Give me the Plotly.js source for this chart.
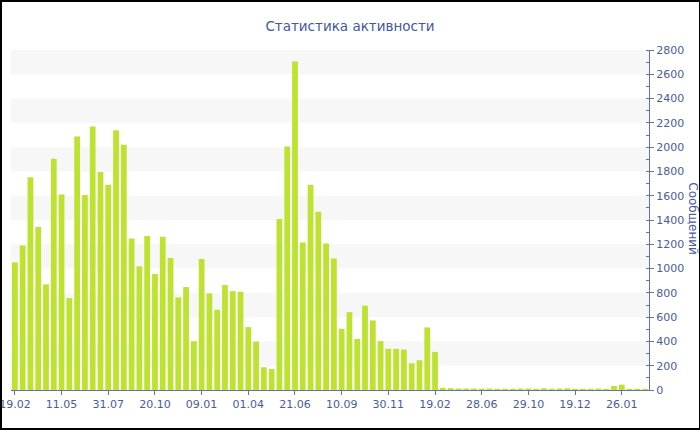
<!DOCTYPE html>
<html>
<head>
<meta charset="utf-8">
<script src="https://cdn.plot.ly/plotly-3.0.1.min.js"></script>
<style>
  html, body { margin: 0; padding: 0; background: #fff; }
  #wrap { position: relative; width: 700px; height: 430px; overflow: hidden; }
  #chart { width: 700px; height: 430px; }
  #frame { position: absolute; left: 0; top: 0; width: 700px; height: 430px; box-sizing: border-box;
           border-top: 2px solid #000; border-left: 2px solid #000; border-right: 1px solid #000; border-bottom: 2px solid #000;
           pointer-events: none; }
</style>
</head>
<body>
<div id="wrap">
  <div id="chart"></div>
  <div id="frame"></div>
</div>
<script>
// ---- data ----
const messages = [
  1051, 1189, 1753, 1343, 870, 1905, 1610, 757, 2087, 1605,
  2169, 1795, 1690, 2139, 2020, 1247, 1018, 1269, 955, 1263,
  1087, 762, 848, 402, 1079, 795, 661, 864, 814, 809,
  518, 399, 187, 173, 1409, 2006, 2706, 1214, 1690, 1467,
  1206, 1082, 504, 641, 421, 694, 573, 402, 339, 339,
  333, 220, 245, 515, 314, 18, 15, 12, 12, 12,
  10, 12, 10, 10, 10, 12, 12, 10, 14, 10,
  12, 14, 10, 10, 10, 12, 10, 33, 44, 10,
  10, 10
];
const tickLabels = ["19.02", "11.05", "31.07", "20.10", "09.01", "01.04", "21.06",
                    "10.09", "30.11", "19.02", "28.06", "29.10", "19.12", "26.01"];
const tickIndex = [0, 6, 12, 18, 24, 30, 36, 42, 48, 54, 60, 66, 72, 78];
const chartTitle = "Статистика активности";
const yTitle = "Сообщений";

// ---- chart ----
const idx = messages.map((_, i) => i);
const blue = "#4a5b9e";
const axisCol = "#6272ab";

const bands = [];
for (let v = 200; v < 2800; v += 400) {
  bands.push({type: "rect", xref: "paper", yref: "y", x0: 0, x1: 1, y0: v, y1: v + 200,
              fillcolor: "#f7f7f7", line: {width: 0}, layer: "below"});
}

const trace = {
  type: "bar",
  x: idx,
  y: messages,
  marker: {color: "#bde230", line: {width: 0}},
  hoverinfo: "y"
};

const layout = {
  width: 700, height: 430,
  margin: {l: 11, r: 51, t: 50, b: 40, pad: 0},
  paper_bgcolor: "#fff",
  plot_bgcolor: "#fff",
  font: {family: "Verdana, 'DejaVu Sans', sans-serif", color: blue, size: 11},
  title: {text: chartTitle, x: 0.5, xanchor: "center", y: 0.94, yanchor: "middle",
          font: {size: 13.5, color: "#4257a0", family: "Verdana, 'DejaVu Sans', sans-serif"}},
  bargap: 0.26,
  showlegend: false,
  xaxis: {
    range: [-0.5, messages.length - 0.5],
    tickmode: "array", tickvals: tickIndex, ticktext: tickLabels,
    ticks: "outside", ticklen: 4, tickcolor: axisCol,
    ticklabeloverflow: "allow",
    showline: true, linecolor: axisCol, linewidth: 1,
    showgrid: false, zeroline: false,
    tickfont: {size: 11, color: blue}
  },
  yaxis: {
    side: "right",
    range: [0, 2800],
    tickmode: "linear", tick0: 0, dtick: 200,
    ticks: "outside", ticklen: 4, tickcolor: axisCol,
    minor: {dtick: 100, ticks: "inside", ticklen: 3, tickcolor: axisCol, showgrid: false},
    showline: true, linecolor: axisCol, linewidth: 1,
    showgrid: false, zeroline: false,
    ticklabeloverflow: "allow",
    tickfont: {size: 11, color: blue}
  },
  shapes: bands,
  annotations: [{
    text: yTitle, xref: "paper", yref: "paper", x: 1.069, y: 0.505,
    xanchor: "center", yanchor: "middle", textangle: 90, showarrow: false,
    font: {size: 12, color: blue}
  }]
};

Plotly.newPlot("chart", [trace], layout, {displayModeBar: false, staticPlot: true});
</script>
</body>
</html>
